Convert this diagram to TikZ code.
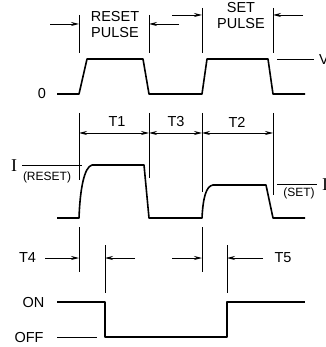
\documentclass[tikz,border=0pt]{standalone}
\usepackage{fontspec}
\setmainfont{Liberation Sans}
\newfontfamily\serifI{Liberation Serif}
\usetikzlibrary{arrows.meta}
\begin{document}
\begin{tikzpicture}[x=1pt,y=-1pt,
  wave/.style={line width=1.6pt,line join=round},
  tickln/.style={line width=0.9pt},
  dim/.style={line width=0.9pt,-{Stealth[length=8pt,width=4pt]}},
  dimboth/.style={line width=0.9pt,{Stealth[length=8pt,width=4pt]}-{Stealth[length=8pt,width=4pt]}},
  lbl/.style={font=\fontsize{14.5}{14.5}\selectfont,inner sep=0pt},
  small/.style={font=\fontsize{12}{12}\selectfont,inner sep=0pt}]
\useasboundingbox (0,0) rectangle (325,347);
% ---------- voltage waveform ----------
\coordinate (v0) at (57,94);
\draw[wave] (v0) -- (79,94) -- (87,59) -- (143,59) -- (149,94) -- (202,94) -- (207,59) -- (268,59) -- (273,94) -- (305,94);
\node[lbl] (zero) at (42,94) {0};
\coordinate (va) at (277,59); \coordinate (vb) at (314,59);
\draw[tickln] (va) -- (vb);
\node[lbl,anchor=west] (V) at (319,60) {V};
% markers
\coordinate (m1t) at (79,15); \coordinate (m1b) at (79,53);
\coordinate (m2t) at (149,15); \coordinate (m2b) at (149,53);
\coordinate (m3t) at (202,8); \coordinate (m3b) at (202,53);
\coordinate (m4t) at (273,8); \coordinate (m4b) at (273,53);
\draw[tickln] (m1t) -- (m1b) (m2t) -- (m2b) (m3t) -- (m3b) (m4t) -- (m4b);
\coordinate (a1) at (50,24); \coordinate (a1h) at (79,24);
\coordinate (a2) at (179,24); \coordinate (a2h) at (149,24);
\coordinate (a3) at (172,15); \coordinate (a3h) at (202,15);
\coordinate (a4) at (303,15); \coordinate (a4h) at (273,15);
\draw[dim] (a1) -- (a1h);
\draw[dim] (a2) -- (a2h);
\draw[dim] (a3) -- (a3h);
\draw[dim] (a4) -- (a4h);
\node[lbl,align=center] (reset) at (115,25) {RESET\\[1.5pt]PULSE};
\node[lbl,align=center] (set) at (241,16) {SET\\[1.5pt]PULSE};
% ---------- current waveform ----------
\draw[wave] (57,218) -- (79,218) .. controls (80,190) and (84,167) .. (92,165) -- (144,165) -- (149,218) -- (202,218) .. controls (203,198) and (206,186) .. (213,185) -- (266,185) -- (273,218) -- (305,218);
\coordinate (n1t) at (79,113); \coordinate (n1b) at (79,180);
\coordinate (n2t) at (149,113); \coordinate (n2b) at (149,178);
\coordinate (n3t) at (202,113); \coordinate (n3b) at (202,192);
\coordinate (n4t) at (273,113); \coordinate (n4b) at (273,195);
\draw[tickln] (n1t) -- (n1b) (n2t) -- (n2b) (n3t) -- (n3b) (n4t) -- (n4b);
\coordinate (d1) at (79,133); \coordinate (d2) at (149,133);
\coordinate (d3) at (202,133); \coordinate (d4) at (273,133);
\draw[dimboth] (d1) -- (d2);
\draw[dimboth] (d2) -- (d3);
\draw[dimboth] (d3) -- (d4);
\node[lbl] (T1) at (117,122) {T1};
\node[lbl] (T3) at (176,122) {T3};
\node[lbl] (T2) at (237,122) {T2};
\node[inner sep=0pt,font=\serifI\fontsize{18}{18}\selectfont] (Ireset) at (14,166) {I};
\coordinate (ir1) at (22,165); \coordinate (ir2) at (82,165);
\draw[tickln] (ir1) -- (ir2);
\node[small] (resetlbl) at (47,177) {(RESET)};
\coordinate (is1) at (277,184); \coordinate (is2) at (317,184);
\draw[tickln] (is1) -- (is2);
\node[small] (setlbl) at (299,193) {(SET)};
\node[inner sep=0pt,font=\serifI\fontsize{18}{18}\selectfont,anchor=west] (Iset) at (322,185) {I};
% ---------- switch waveform ----------
\coordinate (p1t) at (79,227); \coordinate (p1b) at (79,272);
\coordinate (p2t) at (105,245); \coordinate (p2b) at (105,293);
\coordinate (p3t) at (202,227); \coordinate (p3b) at (202,272);
\coordinate (p4t) at (227,245); \coordinate (p4b) at (227,293);
\draw[tickln] (p1t) -- (p1b) (p2t) -- (p2b) (p3t) -- (p3b) (p4t) -- (p4b);
\coordinate (t4a) at (45,258); \coordinate (t4h) at (79,258);
\coordinate (t4b) at (135,258); \coordinate (t4bh) at (105,258);
\coordinate (t5a) at (172,258); \coordinate (t5h) at (202,258);
\coordinate (t5b) at (263,258); \coordinate (t5bh) at (227,258);
\draw[dim] (t4a) -- (t4h);
\draw[dim] (t4b) -- (t4bh);
\draw[dim] (t5a) -- (t5h);
\draw[dim] (t5b) -- (t5bh);
\node[lbl] (T4) at (27.5,258) {T4};
\node[lbl] (T5) at (283,258) {T5};
\node[lbl] (on) at (33.5,303) {ON};
\node[lbl] (off) at (29,338) {OFF};
\draw[wave] (57,302) -- (105,302) -- (105,337) -- (227,337) -- (227,302) -- (305,302);
\coordinate (of1) at (57,337); \coordinate (of2) at (97,337);
\draw[tickln] (of1) -- (of2);
\end{tikzpicture}
\end{document}
